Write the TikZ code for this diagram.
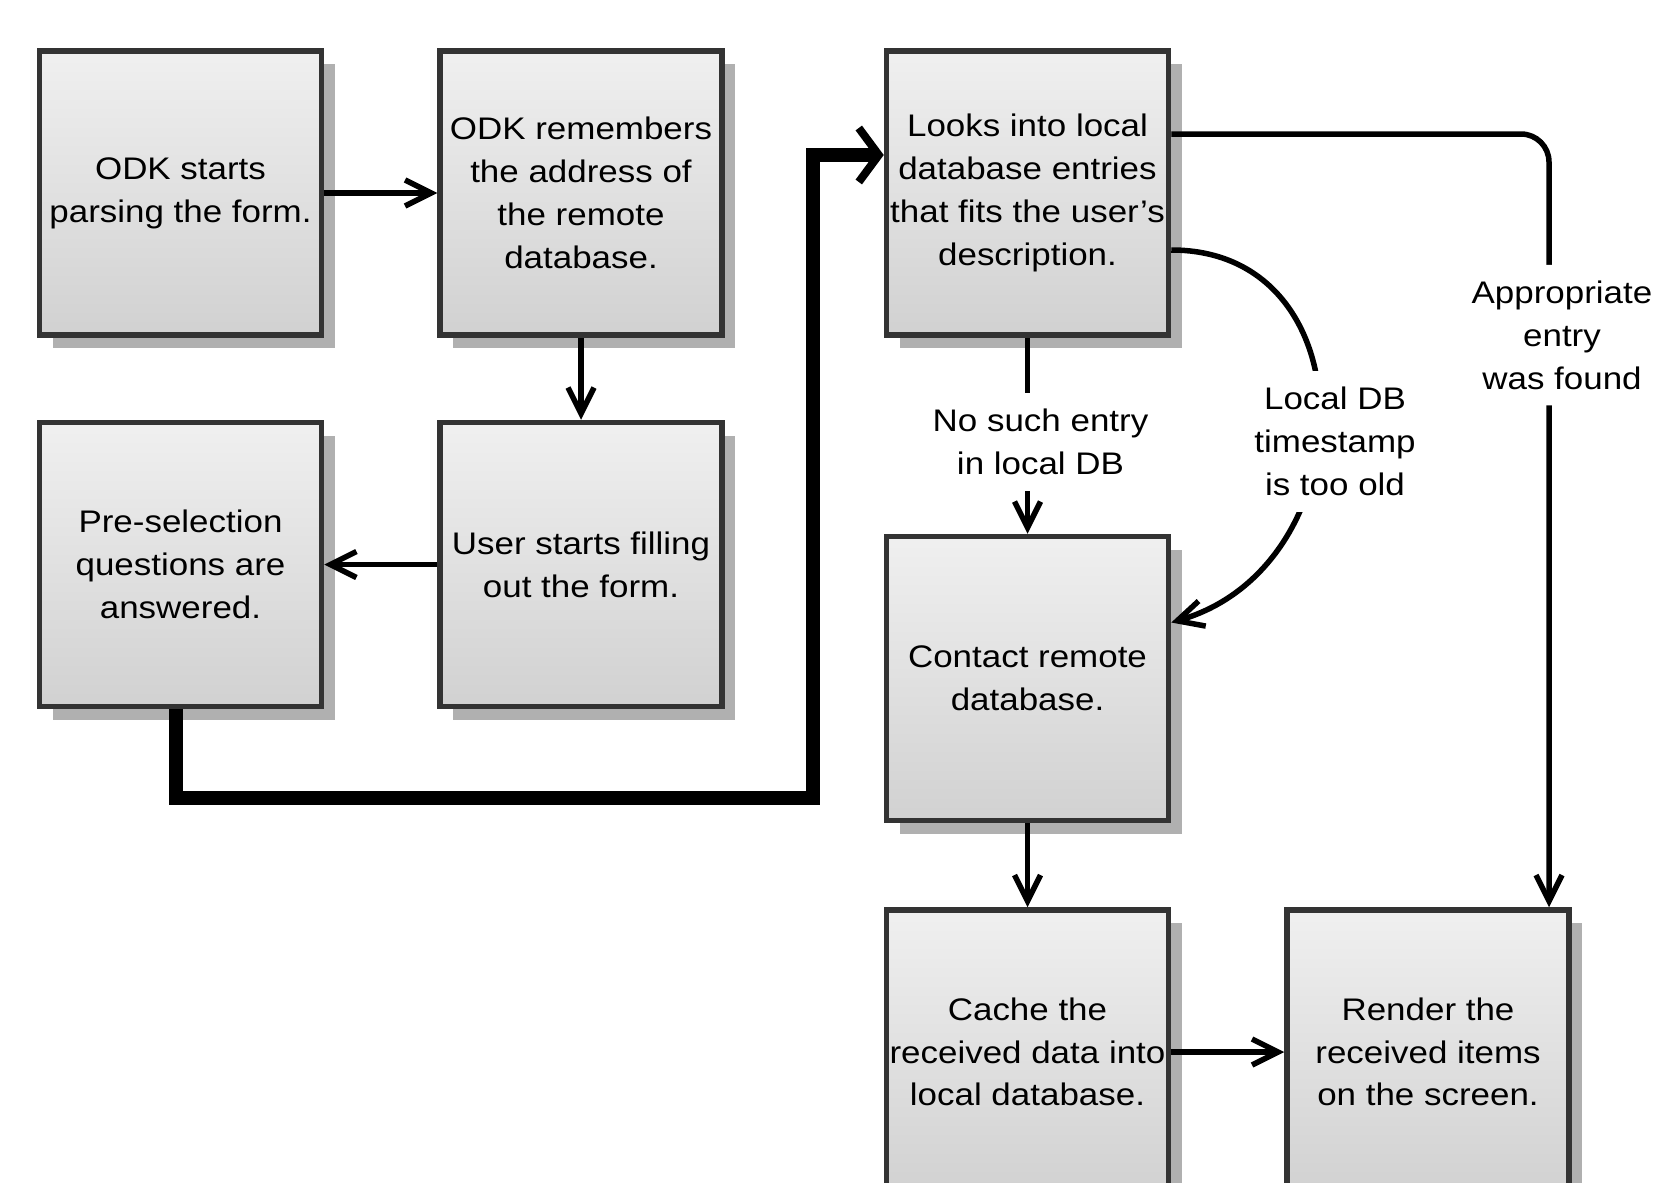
\documentclass[tikz,border=0pt]{standalone}
\usepackage{fontspec}
\setmainfont{Liberation Sans}[FakeStretch=1.12]
\usetikzlibrary{arrows.meta,shadows}

\tikzset{
  flowbox/.style={draw=black!80,line width=2.75pt,top color=black!6,bottom color=black!18,
    minimum width=141pt,minimum height=142pt,inner sep=0pt,align=center,
    font=\fontsize{15.6pt}{21.4pt}\selectfont,
    drop shadow={shadow xshift=6.5pt,shadow yshift=-6.5pt,opacity=1,fill=black!31}},
  flow/.style={line width=2.75pt,-{Straight Barb[length=13pt,width=13pt,line width=2.75pt]}},
  bigflow/.style={line width=7pt,-{Straight Barb[length=10pt,width=27pt,line width=4pt]}},
  cond/.style={fill=white,inner xsep=3pt,inner ysep=8pt,align=center,font=\fontsize{15.6pt}{21.4pt}\selectfont}
}

\begin{document}
\begin{tikzpicture}[x=0.5pt,y=-0.5pt]
  \clip (0,0) rectangle (1655,1183);
  \fill[white] (0,0) rectangle (1655,1183);

  % left
  %boxes
  \node[flowbox,at={(180.5,193)}] (parse) {ODK starts\\parsing the form.};
  \node[flowbox,at={(581,193)}] (remember) {ODK remembers\\the address of\\the remote\\database.};
  \node[flowbox,at={(180.5,564.5)}] (presel) {Pre-selection\\questions are\\answered.};
  \node[flowbox,at={(581,564.5)}] (filling) {User starts filling\\out the form.};
  %edges
  \draw[flow] (parse) -- (remember);
  \draw[flow] (remember) -- (filling);
  \draw[flow] (filling) -- (presel);
  \coordinate (bend) at (813,798);

  % right
  %boxes
  \node[flowbox,at={(1027.5,193)}] (lookup) {Looks into local\\database entries\\that fits the user's\\description.};
  \node[flowbox,at={(1027.5,678.5)}] (remote) {Contact remote\\database.};
  \node[flowbox,at={(1027.5,1052)}] (cache) {Cache the\\received data into\\local database.};
  \node[flowbox,at={(1428,1052)}] (render) {Render the\\received items\\on the screen.};
  %edges
  \draw[bigflow] ([xshift=-2.5pt]presel.south) |- (bend) |- ([yshift=19pt]lookup.west);
  \draw[flow] (lookup) -- node[cond,xshift=6.5pt,yshift=-3pt]{No such entry\\in local DB} (remote);
  \draw[flow] ([yshift=-28.5pt]lookup.east) .. controls +(100pt,0pt) and +(97pt,28pt) ..
    node[cond,xshift=8pt,yshift=-13pt]{Local DB\\timestamp\\is too old} ([yshift=28pt]remote.east);
  \draw[flow,rounded corners=14pt] ([yshift=29.5pt]lookup.east) -|
    node[cond,pos=0.63,xshift=6.5pt]{Appropriate\\entry\\was found} ([xshift=60.5pt]render.north);
  \draw[flow] (remote) -- (cache);
  \draw[flow] (cache) -- (render);
\end{tikzpicture}
\end{document}
